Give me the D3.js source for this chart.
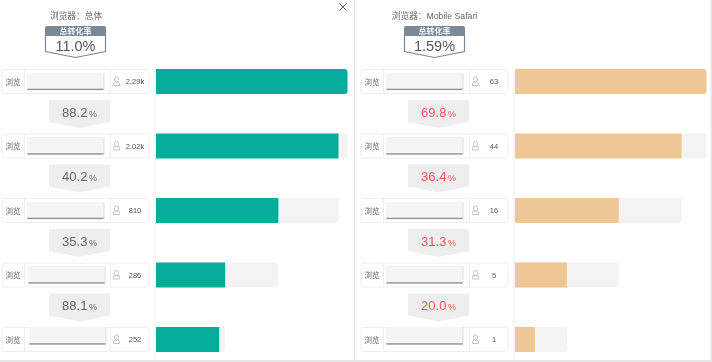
<!DOCTYPE html>
<html><head><meta charset="utf-8">
<script src="https://cdn.jsdelivr.net/npm/d3@7"></script>
<style>
html,body{margin:0;padding:0;background:#fff}
svg{display:block;filter:blur(0.35px)}
text{font-family:"Liberation Sans","Noto Sans CJK SC",sans-serif}
</style></head><body>
<svg id="c" width="712" height="362"></svg>
<script>
// Data
const stepLabel = "浏览";
const badgeLabel = "总转化率";
const panelTitles = ["浏览器：总体", "浏览器：Mobile Safari"];
const overallRates = ["11.0", "1.59"];
const totalCounts = ["2.29k", "2.02k", "810", "286", "252"];
const safariCounts = ["63", "44", "16", "5", "1"];
const totalConversion = ["88.2", "40.2", "35.3", "88.1"];
const safariConversion = ["69.8", "36.4", "31.3", "20.0"];
// displayed bar length as % of the full track (bars are not proportional to counts)
const totalBarShare = [100, 95.3, 63.9, 36.1, 33];
const safariBarShare = [100, 87, 54.2, 27.1, 10.4];

const barColors = ["#03ad9a", "#efc795"];
const rateColors = ["#63666a", "#f9575c"];
const svg = d3.select("#c");
const rowY = d3.scalePoint().domain(d3.range(5)).range([69, 327]);
const rowH = 25;

svg.append("rect").attr("x",354).attr("y",0).attr("width",1.2).attr("height",360).attr("fill","#e2e4f5");
svg.append("rect").attr("x",0).attr("y",360).attr("width",712).attr("height",2).attr("fill","#e6e6e6");
svg.append("rect").attr("x",710.5).attr("y",0).attr("width",1.5).attr("height",362).attr("fill","#e6e6e6");

// close icon
const closeG = svg.append("g").attr("stroke","#666").attr("stroke-width",1);
closeG.append("line").attr("x1",339.5).attr("y1",3.5).attr("x2",346.5).attr("y2",10.5);
closeG.append("line").attr("x1",346.5).attr("y1",3.5).attr("x2",339.5).attr("y2",10.5);

function panel(ox, idx, counts, conv, share, maskOffsets) {
  const g = svg.append("g").attr("transform", `translate(${ox},0)`);
  const barX = d3.scaleLinear().domain([0,100]).range([0,191.5]);
  g.append("text").attr("x", idx===0?76:75.5).attr("y",18.5).attr("text-anchor","middle")
    .attr("font-size",8.7).attr("fill","#666").text(panelTitles[idx]);

  // badge
  g.append("path").attr("d","M45.5,35.5V51.5L75.5,57.5L105.5,51.5V35.5Z").attr("fill","#fff").attr("stroke","#7c8899").attr("stroke-width",1.2);
  g.append("path").attr("d","M45,28a2,2 0 0 1 2,-2H104a2,2 0 0 1 2,2V36H45Z").attr("fill","#7c8899");
  g.append("text").attr("x",75.5).attr("y",34.3).attr("text-anchor","middle").attr("font-size",8).attr("font-weight","bold").attr("fill","#f2f3f5").text(badgeLabel);
  g.append("text").attr("x",75.5).attr("y",51).attr("text-anchor","middle").attr("font-size",14.5).attr("fill","#555").text(overallRates[idx]+"%");

  // separator beside the bars
  g.append("rect").attr("x",154.5).attr("y",rowY(0)).attr("width",1).attr("height",291).attr("fill","#eeeeee");

  const rows = g.selectAll("g.row").data(counts).join("g").attr("class","row")
     .attr("transform",(d,i)=>`translate(0,${rowY(i)})`);
  rows.append("rect").attr("x",2).attr("y",0.5).attr("width",147).attr("height",24).attr("rx",2.5)
     .attr("fill","#fff").attr("stroke","#eeeeee");
  rows.append("line").attr("x1",24.5).attr("x2",24.5).attr("y1",1).attr("y2",24).attr("stroke","#eeeeee");
  rows.append("line").attr("x1",110.5).attr("x2",110.5).attr("y1",1).attr("y2",24).attr("stroke","#eeeeee");
  rows.append("text").attr("x",13).attr("y",15.5).attr("text-anchor","middle").attr("font-size",7.5).attr("fill","#666").text(stepLabel);
  // redaction block with its shadow
  rows.append("rect").attr("x",(d,i)=>27+maskOffsets[i]).attr("y",(d,i)=>i===4?0:4).attr("width",77.5).attr("height",(d,i)=>i===4?17.5:17).attr("fill","#dcdcdc");
  rows.append("rect").attr("x",(d,i)=>27+maskOffsets[i]).attr("y",(d,i)=>i===4?0:4).attr("width",76.5).attr("height",(d,i)=>i===4?16:15.5).attr("fill","#f5f5f5");
  rows.append("rect").attr("x",(d,i)=>27.5+maskOffsets[i]).attr("y",(d,i)=>i===4?16.3:19.8).attr("width",76).attr("height",1.3).attr("fill","#939393");
  // user icon
  const ic = rows.append("g").attr("fill","none").attr("stroke","#b5bfcc").attr("stroke-width",0.9);
  ic.append("rect").attr("x",114.5).attr("y",8).attr("width",4).attr("height",5).attr("rx",2);
  ic.append("path").attr("d","M113.5,16.5v-1.5a2,2 0 0 1 2,-2h2a2,2 0 0 1 2,2v1.5Z");
  rows.append("text").attr("x",135).attr("y",15).attr("text-anchor","middle").attr("font-size",7.5).attr("fill","#555").text(d=>d);

  // arrows
  const arrows = g.selectAll("g.arrow").data(conv).join("g").attr("class","arrow")
     .attr("transform",(d,i)=>`translate(0,${rowY(i)+31})`);
  arrows.append("path").attr("d","M49,0H110V22L79.5,28L49,22Z").attr("fill","#eeeeee");
  const t = arrows.append("text").attr("x",79.5).attr("y",16.5).attr("text-anchor","middle").attr("fill",rateColors[idx]);
  t.append("tspan").attr("font-size",13).text(d=>d);
  t.append("tspan").attr("font-size",9).attr("dx",1.5).text("%");

  // bars
  const bars = g.selectAll("g.bar").data(share).join("g").attr("class","bar")
     .attr("transform",(d,i)=>`translate(156,${rowY(i)})`);
  bars.append("rect").attr("height",rowH).attr("rx",3)
     .attr("width",(d,i)=>barX(i===0?d:share[i-1])).attr("fill","#f3f3f3");
  bars.append("path").attr("fill",barColors[idx]).attr("d",(d,i)=>{
     const w = barX(d);
     return i===0
       ? `M0,0H${w-3}a3,3 0 0 1 3,3V${rowH-3}a3,3 0 0 1 -3,3H0Z`
       : `M0,0H${w}V${rowH}H0Z`;
  });
}
panel(0,0,totalCounts,totalConversion,totalBarShare,[0,0,0,1,2]);
panel(359,1,safariCounts,safariConversion,safariBarShare,[0,0,0,0,0]);
</script></body></html>
